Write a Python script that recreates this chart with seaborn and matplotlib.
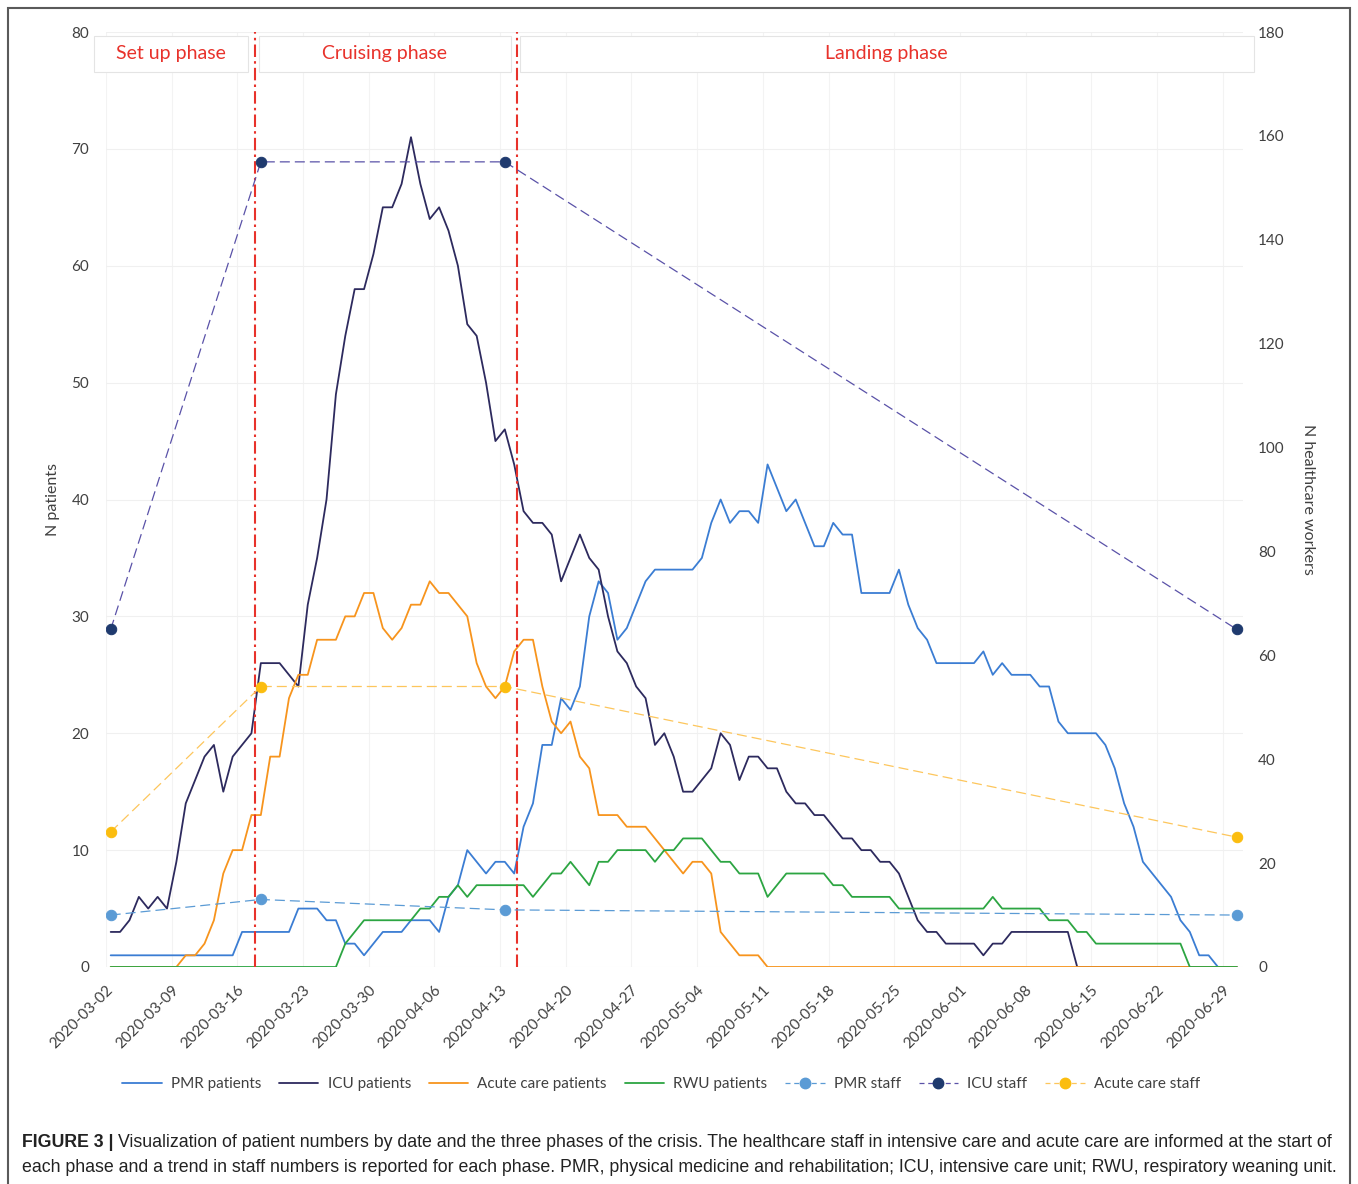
import pandas as pd
import matplotlib
matplotlib.use('Agg')
import matplotlib.pyplot as plt
import matplotlib.dates as mdates
from matplotlib.lines import Line2D
from matplotlib.patches import Rectangle
import seaborn as sns

# daily patient counts, 2020-03-02 .. 2020-06-30
start_date = '2020-03-02'
pmr_patients = [1, 1, 1, 1, 1, 1, 1, 1, 1, 1,
                1, 1, 1, 1, 3, 3, 3, 3, 3, 3,
                5, 5, 5, 4, 4, 2, 2, 1, 2, 3,
                3, 3, 4, 4, 4, 3, 6, 7, 10, 9,
                8, 9, 9, 8, 12, 14, 19, 19, 23, 22,
                24, 30, 33, 32, 28, 29, 31, 33, 34, 34,
                34, 34, 34, 35, 38, 40, 38, 39, 39, 38,
                43, 41, 39, 40, 38, 36, 36, 38, 37, 37,
                32, 32, 32, 32, 34, 31, 29, 28, 26, 26,
                26, 26, 26, 27, 25, 26, 25, 25, 25, 24,
                24, 21, 20, 20, 20, 20, 19, 17, 14, 12,
                9, 8, 7, 6, 4, 3, 1, 1, 0, 0,
                0]
icu_patients = [3, 3, 4, 6, 5, 6, 5, 9, 14, 16,
                18, 19, 15, 18, 19, 20, 26, 26, 26, 25,
                24, 31, 35, 40, 49, 54, 58, 58, 61, 65,
                65, 67, 71, 67, 64, 65, 63, 60, 55, 54,
                50, 45, 46, 43, 39, 38, 38, 37, 33, 35,
                37, 35, 34, 30, 27, 26, 24, 23, 19, 20,
                18, 15, 15, 16, 17, 20, 19, 16, 18, 18,
                17, 17, 15, 14, 14, 13, 13, 12, 11, 11,
                10, 10, 9, 9, 8, 6, 4, 3, 3, 2,
                2, 2, 2, 1, 2, 2, 3, 3, 3, 3,
                3, 3, 3, 0, 0, 0, 0, 0, 0, 0,
                0, 0, 0, 0, 0, 0, 0, 0, 0, 0,
                0]
acute_patients = [0, 0, 0, 0, 0, 0, 0, 0, 1, 1,
                  2, 4, 8, 10, 10, 13, 13, 18, 18, 23,
                  25, 25, 28, 28, 28, 30, 30, 32, 32, 29,
                  28, 29, 31, 31, 33, 32, 32, 31, 30, 26,
                  24, 23, 24, 27, 28, 28, 24, 21, 20, 21,
                  18, 17, 13, 13, 13, 12, 12, 12, 11, 10,
                  9, 8, 9, 9, 8, 3, 2, 1, 1, 1,
                  0, 0, 0, 0, 0, 0, 0, 0, 0, 0,
                  0, 0, 0, 0, 0, 0, 0, 0, 0, 0,
                  0, 0, 0, 0, 0, 0, 0, 0, 0, 0,
                  0, 0, 0, 0, 0, 0, 0, 0, 0, 0,
                  0, 0, 0, 0, 0, 0, 0, 0, 0, 0,
                  0]
rwu_patients = [0, 0, 0, 0, 0, 0, 0, 0, 0, 0,
                0, 0, 0, 0, 0, 0, 0, 0, 0, 0,
                0, 0, 0, 0, 0, 2, 3, 4, 4, 4,
                4, 4, 4, 5, 5, 6, 6, 7, 6, 7,
                7, 7, 7, 7, 7, 6, 7, 8, 8, 9,
                8, 7, 9, 9, 10, 10, 10, 10, 9, 10,
                10, 11, 11, 11, 10, 9, 9, 8, 8, 8,
                6, 7, 8, 8, 8, 8, 8, 7, 7, 6,
                6, 6, 6, 6, 5, 5, 5, 5, 5, 5,
                5, 5, 5, 5, 6, 5, 5, 5, 5, 5,
                4, 4, 4, 3, 3, 2, 2, 2, 2, 2,
                2, 2, 2, 2, 2, 0, 0, 0, 0, 0,
                0]

# staff numbers at start of each phase (right axis)
staff_dates = ['2020-03-02', '2020-03-18', '2020-04-13', '2020-06-30']
pmr_staff = [10, 13, 11, 10]
icu_staff = [65, 155, 155, 65]
acute_staff = [26, 54, 54, 25]

phase_names = ['Set up phase', 'Cruising phase', 'Landing phase']
phase_lines = ['2020-03-17 09:00', '2020-04-14 07:00']
phase_boxes = [('2020-02-29 06:30', '2020-03-16 16:00'),
               ('2020-03-17 19:00', '2020-04-13 15:30'),
               ('2020-04-14 14:00', '2020-07-01 19:00')]

patient_colors = {'PMR patients': '#3b7dd3', 'ICU patients': '#2d2a5e',
                  'Acute care patients': '#f7941d', 'RWU patients': '#2ca542'}
staff_styles = [('PMR staff', pmr_staff, '#5b9bd5', '#5b9bd5'),
                ('ICU staff', icu_staff, '#5a52a8', '#1f3a6e'),
                ('Acute care staff', acute_staff, '#fdc65c', '#fbbd0f')]

sns.set_theme(style='white')
plt.rcParams['font.family'] = ['Lato', 'DejaVu Sans']
text_c = '#404040'

dates = pd.date_range(start_date, periods=len(pmr_patients), freq='D')
df = pd.DataFrame({'date': dates,
                   'PMR patients': pmr_patients,
                   'ICU patients': icu_patients,
                   'Acute care patients': acute_patients,
                   'RWU patients': rwu_patients})
long_df = df.melt('date', var_name='series', value_name='n')

W, H = 1358, 1184
fig = plt.figure(figsize=(W / 100, H / 100), dpi=100)
ax = fig.add_axes([106 / W, 1 - 967 / H, (1243 - 106) / W, (967 - 32) / H])

sns.lineplot(data=long_df, x='date', y='n', hue='series',
             hue_order=list(patient_colors), palette=patient_colors,
             linewidth=1.3, ax=ax, legend=False)

ax2 = ax.twinx()
sdates = pd.to_datetime(staff_dates)
for name, vals, line_c, dot_c in staff_styles:
    sns.lineplot(x=sdates, y=vals, ax=ax2, color=line_c, linewidth=0.9,
                 linestyle=(0, (8, 4)), marker='o', markersize=7.5,
                 markerfacecolor=dot_c, markeredgecolor=dot_c)

# phase boundaries
for b in phase_lines:
    ax.axvline(pd.Timestamp(b), color='#e8322b', lw=1.5,
               linestyle=(0, (6, 2, 1.2, 2)), zorder=5)

# phase header boxes
for name, (b0, b1) in zip(phase_names, phase_boxes):
    x0, x1 = mdates.date2num(pd.Timestamp(b0)), mdates.date2num(pd.Timestamp(b1))
    ax.add_patch(Rectangle((x0, 76.6), x1 - x0, 3.1, facecolor='white',
                           edgecolor='#e4e4e4', lw=0.8, clip_on=False, zorder=6))
    ax.text((x0 + x1) / 2, 78.2, name, color='#e8322b', fontsize=14,
            ha='center', va='center', zorder=7)

ax.set_xlim(pd.Timestamp('2020-03-01 12:00'), pd.Timestamp('2020-06-30 16:00'))
ax.set_ylim(0, 80)
ax2.set_ylim(0, 180)
ax.set_yticks(range(0, 81, 10))
ax2.set_yticks(range(0, 181, 20))

ticks = pd.date_range('2020-03-02', '2020-06-29', freq='7D')
ax.set_xticks(ticks)
ax.set_xticks(pd.date_range('2020-03-01 12:00', '2020-06-30', freq='7D'), minor=True)
ax.xaxis.set_major_formatter(mdates.DateFormatter('%Y-%m-%d'))
for lab in ax.get_xticklabels():
    lab.set_rotation(45)
    lab.set_ha('right')
    lab.set_va('center')
    lab.set_rotation_mode('anchor')

ax.grid(axis='y', color='#f0f0f0', lw=0.8)
ax.grid(axis='x', which='minor', color='#f3f3f3', lw=0.8)
ax.set_axisbelow(True)
ax.tick_params(axis='x', length=0, pad=15, labelsize=11, colors=text_c)
ax.tick_params(axis='y', length=0, pad=12, labelsize=11, colors=text_c)
ax2.tick_params(axis='y', length=0, pad=11, labelsize=11, colors=text_c)
for a in (ax, ax2):
    for s in a.spines.values():
        s.set_visible(False)

ax.set_xlabel('')
ax.set_ylabel('N patients', fontsize=11.5, color=text_c, labelpad=8)
ax2.set_ylabel('N healthcare workers', fontsize=11.5, color=text_c,
               rotation=270, labelpad=22)

# legend
handles = [Line2D([], [], color=c, lw=1.3) for c in patient_colors.values()]
labels = list(patient_colors)
for name, vals, line_c, dot_c in staff_styles:
    handles.append(Line2D([], [], color=line_c, lw=0.9, linestyle=(0, (4, 3)),
                          marker='o', markersize=7.5, markerfacecolor=dot_c,
                          markeredgecolor=dot_c))
    labels.append(name)
fig.legend(handles, labels, loc='center', bbox_to_anchor=(661 / W, 1 - 1084 / H),
           ncol=7, frameon=False, fontsize=11, handlelength=2.6,
           columnspacing=1.15, handletextpad=0.6, labelcolor=text_c)

# outer frame
fig.add_artist(Rectangle((8 / W, -0.05), (1350 - 8) / W, 1 - 8 / H + 0.05,
                         transform=fig.transFigure, fill=False,
                         edgecolor='#5a5a5a', lw=1.5))

# caption
cap_font = ['Liberation Sans Narrow', 'Liberation Sans', 'DejaVu Sans']
cap1 = ('Visualization of patient numbers by date and the three phases of the crisis. '
        'The healthcare staff in intensive care and acute care are informed at the start of')
cap2 = ('each phase and a trend in staff numbers is reported for each phase. PMR, physical '
        'medicine and rehabilitation; ICU, intensive care unit; RWU, respiratory weaning unit.')
renderer = fig.canvas.get_renderer()
t2 = fig.text(22 / W, 1 - 1172 / H, cap2, fontsize=12, family=cap_font,
              color='#222222', va='baseline')
w2 = t2.get_window_extent(renderer).width
fs = 12 * (1341 - 22) / w2
t2.set_fontsize(fs)
t0 = fig.text(22 / W, 1 - 1147 / H, 'FIGURE 3 |', fontsize=fs, family=cap_font,
              weight='bold', color='#222222', va='baseline')
w0 = t0.get_window_extent(renderer).width
fig.text((22 + w0 + fs * 0.35) / W, 1 - 1147 / H, cap1, fontsize=fs,
         family=cap_font, color='#222222', va='baseline')

fig.savefig('out.png', dpi=100)
